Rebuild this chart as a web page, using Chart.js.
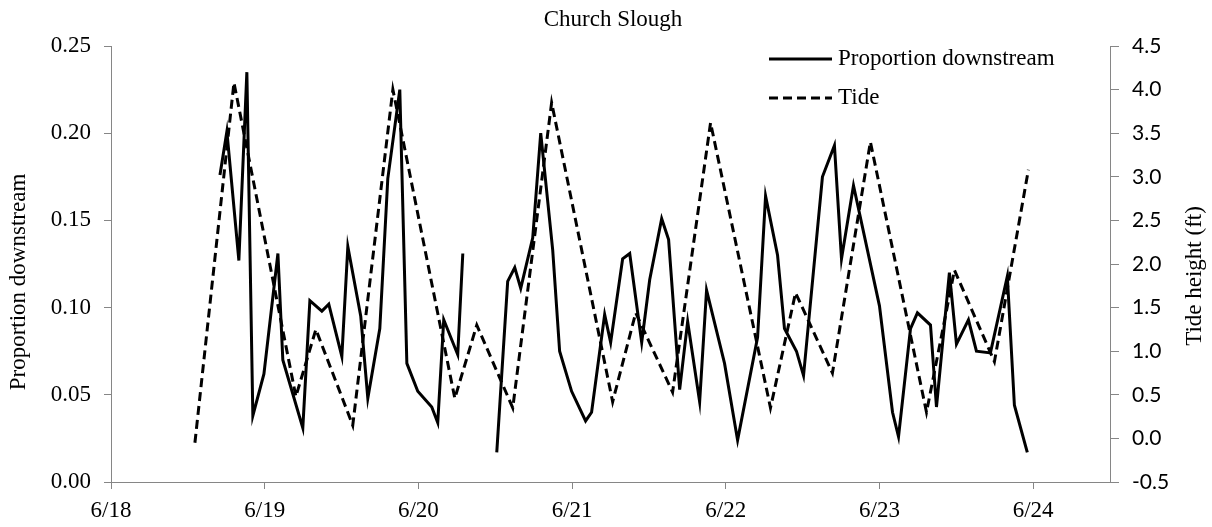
<!DOCTYPE html>
<html>
<head>
<meta charset="utf-8">
<title>Church Slough</title>
<script src="https://cdn.jsdelivr.net/npm/chart.js@4.4.1/dist/chart.umd.min.js"></script>
<style>
  html, body { margin: 0; padding: 0; background: #fff; }
  canvas { display: block; }
</style>
</head>
<body>
<canvas id="chart" width="1212" height="527"></canvas>
<script>
// x values are days after 6/18 00:00
const propDays = [
  0.709, 0.754, 0.832, 0.884, 0.923, 0.995, 1.086, 1.118, 1.248, 1.294,
  1.372, 1.417, 1.502, 1.541, 1.625, 1.671, 1.749, 1.801, 1.879, 1.925,
  1.996, 2.087, 2.126, 2.165, 2.256, 2.289, 2.400, 2.510, 2.581, 2.627,
  2.666, 2.744, 2.796, 2.874, 2.919, 2.997, 3.088, 3.127, 3.212, 3.251,
  3.329, 3.375, 3.453, 3.505, 3.583, 3.628, 3.700, 3.752, 3.830, 3.875,
  3.992, 4.077, 4.207, 4.259, 4.337, 4.382, 4.460, 4.506, 4.629, 4.707,
  4.753, 4.831, 5.000, 5.085, 5.124, 5.202, 5.247, 5.332, 5.371, 5.455,
  5.501, 5.579, 5.631, 5.722, 5.832, 5.878, 5.962
];
const propValues = [
  0.176, 0.201, 0.127, 0.235, 0.038, 0.062, 0.131, 0.070, 0.031, 0.104,
  0.098, 0.102, 0.072, 0.135, 0.095, 0.048, 0.088, 0.174, 0.225, 0.068,
  0.052, 0.043, 0.034, 0.093, 0.073, 0.131, null,  0.017, 0.115, 0.123,
  0.111, 0.140, 0.200, 0.133, 0.075, 0.052, 0.035, 0.040, 0.096, 0.080,
  0.128, 0.131, 0.080, 0.116, 0.151, 0.139, 0.053, 0.092, 0.046, 0.110,
  0.068, 0.024, 0.083, 0.164, 0.130, 0.088, 0.075, 0.061, 0.175, 0.193,
  0.128, 0.170, 0.101, 0.040, 0.026, 0.088, 0.097, 0.090, 0.043, 0.120,
  0.079, 0.093, 0.075, 0.074, 0.118, 0.044, 0.017
];

const tideDays = [
  0.546, 0.800, 1.203, 1.333, 1.573, 1.834, 2.237, 2.380, 2.614, 2.867,
  3.264, 3.414, 3.654, 3.901, 4.291, 4.454, 4.694, 4.941, 5.306, 5.488,
  5.748, 5.969
];
const tideHeights = [
  -0.05, 4.08, 0.48, 1.25, 0.15, 4.00, 0.46, 1.30, 0.35, 3.85,
  0.42, 1.44, 0.53, 3.62, 0.35, 1.67, 0.75, 3.40, 0.30, 1.93,
  0.88, 3.08
];

const dayTicks = [0, 1, 2, 3, 4, 5, 6];
const dayLabels = ['6/18', '6/19', '6/20', '6/21', '6/22', '6/23', '6/24'];
const propTicks = [0, 0.05, 0.10, 0.15, 0.20, 0.25];
const tideTicks = [-0.5, 0, 0.5, 1.0, 1.5, 2.0, 2.5, 3.0, 3.5, 4.0, 4.5];

const serif = '"Liberation Serif", "Times New Roman", serif';
const axisGray = '#868686';

const toPoints = (xs, ys) => xs.map((x, i) => ({ x: x, y: ys[i] }));

// titles, rotated axis titles and the in-plot legend
const textPlugin = {
  id: 'texts',
  afterDraw(chart) {
    const ctx = chart.ctx;
    ctx.save();
    ctx.fillStyle = '#000';
    ctx.font = '23px ' + serif;
    ctx.textBaseline = 'middle';
    ctx.textAlign = 'center';
    ctx.fillText('Church Slough', 613, 20);

    ctx.save();
    ctx.translate(19, 282);
    ctx.rotate(-Math.PI / 2);
    ctx.fillText('Proportion downstream', 0, 0);
    ctx.restore();

    ctx.save();
    ctx.translate(1195, 276);
    ctx.rotate(-Math.PI / 2);
    ctx.fillText('Tide height (ft)', 0, 0);
    ctx.restore();

    // legend
    const items = [
      { label: 'Proportion downstream', dash: [], y: 59 },
      { label: 'Tide', dash: [9, 5], y: 98 }
    ];
    ctx.textAlign = 'left';
    ctx.lineWidth = 3;
    ctx.strokeStyle = '#000';
    items.forEach(it => {
      ctx.setLineDash(it.dash);
      ctx.beginPath();
      ctx.moveTo(769, it.y);
      ctx.lineTo(832, it.y);
      ctx.stroke();
      ctx.fillText(it.label, 838, it.y);
    });
    ctx.restore();
  }
};

new Chart(document.getElementById('chart'), {
  type: 'line',
  data: {
    datasets: [
      {
        label: 'Proportion downstream',
        data: toPoints(propDays, propValues),
        borderColor: '#000',
        borderWidth: 3,
        pointRadius: 0,
        yAxisID: 'y',
        spanGaps: false
      },
      {
        label: 'Tide',
        data: toPoints(tideDays, tideHeights),
        borderColor: '#000',
        borderWidth: 3,
        borderDash: [9, 5],
        pointRadius: 0,
        yAxisID: 'y2'
      }
    ]
  },
  options: {
    responsive: false,
    devicePixelRatio: 1,
    animation: false,
    layout: { padding: { top: 46, right: 0, left: 0, bottom: 0 } },
    plugins: {
      legend: { display: false },
      title: { display: false },
      tooltip: { enabled: false }
    },
    scales: {
      x: {
        type: 'linear',
        min: 0,
        max: 6.5,
        afterBuildTicks: s => { s.ticks = dayTicks.map(v => ({ value: v })); },
        afterFit: s => { s.height = 45; },
        ticks: {
          autoSkip: false,
          maxRotation: 0,
          padding: 8,
          color: '#000',
          font: { family: serif, size: 23 },
          callback: v => dayLabels[dayTicks.indexOf(v)]
        },
        grid: { drawOnChartArea: false, tickLength: 7, color: axisGray },
        border: { color: axisGray, width: 1 }
      },
      y: {
        position: 'left',
        min: 0,
        max: 0.25,
        afterBuildTicks: s => { s.ticks = propTicks.map(v => ({ value: v })); },
        afterFit: s => { s.width = 111; },
        ticks: {
          padding: 13,
          color: '#000',
          font: { family: serif, size: 23 },
          callback: v => v.toFixed(2)
        },
        grid: { drawOnChartArea: false, tickLength: 7, color: axisGray },
        border: { color: axisGray, width: 1 }
      },
      y2: {
        position: 'right',
        min: -0.5,
        max: 4.5,
        afterBuildTicks: s => { s.ticks = tideTicks.map(v => ({ value: v })); },
        afterFit: s => { s.width = 102; },
        ticks: {
          padding: 13,
          color: '#000',
          font: { family: 'Lato, "Open Sans", sans-serif', size: 21 },
          callback: v => v.toFixed(1)
        },
        grid: { drawOnChartArea: false, tickLength: 9, color: axisGray },
        border: { color: axisGray, width: 1 }
      }
    }
  },
  plugins: [textPlugin]
});
</script>
</body>
</html>
